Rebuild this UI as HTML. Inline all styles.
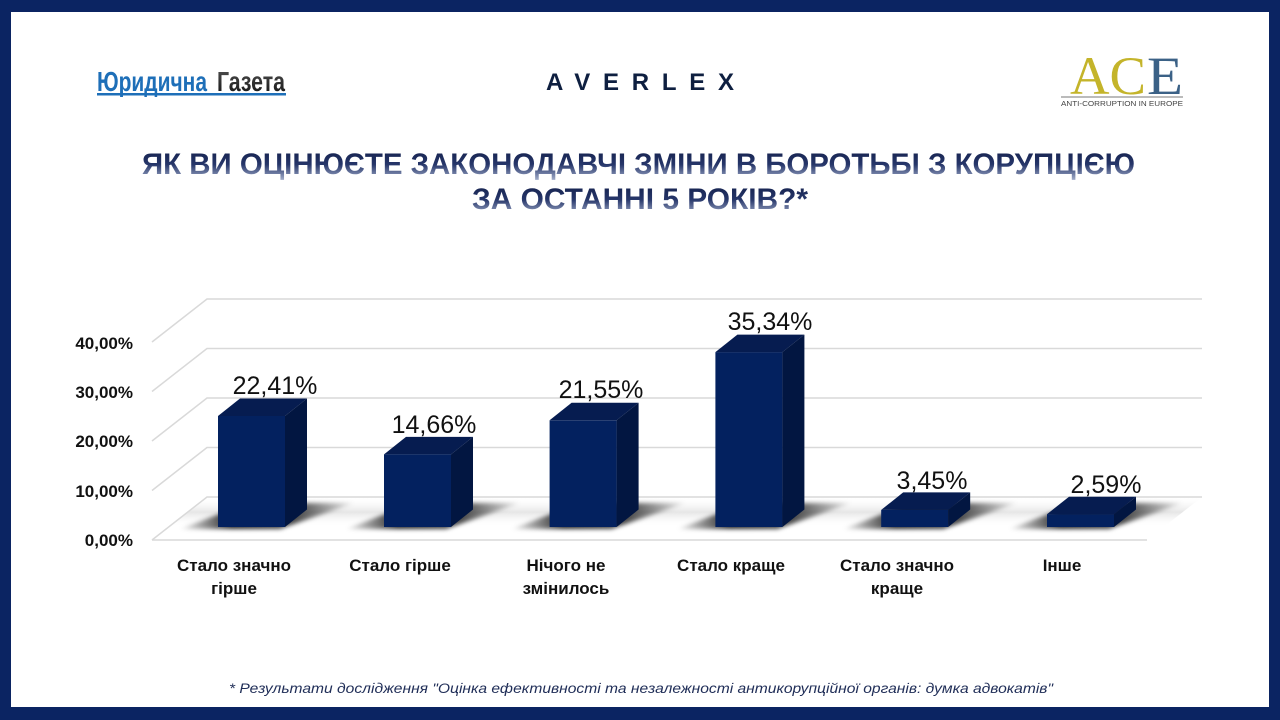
<!DOCTYPE html>
<html>
<head>
<meta charset="utf-8">
<style>
html,body{margin:0;padding:0;background:#fff;}
svg{display:block;}
</style>
</head>
<body>
<svg width="1280" height="720" viewBox="0 0 1280 720" xmlns="http://www.w3.org/2000/svg">
  <defs>
    <linearGradient id="tg" x1="0" y1="0" x2="0" y2="1">
      <stop offset="0" stop-color="#131f4a"/>
      <stop offset="0.5" stop-color="#26366a"/>
      <stop offset="1" stop-color="#aab5d0"/>
    </linearGradient>
    <linearGradient id="gz" x1="0" y1="0" x2="0" y2="1">
      <stop offset="0" stop-color="#555"/>
      <stop offset="0.5" stop-color="#333"/>
      <stop offset="1" stop-color="#111"/>
    </linearGradient>
    <linearGradient id="sh" gradientUnits="userSpaceOnUse" x1="-40" y1="0" x2="140" y2="0">
      <stop offset="0" stop-color="#000" stop-opacity="0"/>
      <stop offset="0.3" stop-color="#000" stop-opacity="0.85"/>
      <stop offset="0.65" stop-color="#000" stop-opacity="0.7"/>
      <stop offset="1" stop-color="#000" stop-opacity="0"/>
    </linearGradient>
    <linearGradient id="floor" x1="0" y1="0" x2="0" y2="1">
      <stop offset="0" stop-color="#ffffff" stop-opacity="0"/>
      <stop offset="0.35" stop-color="#e6e6e6"/>
      <stop offset="0.7" stop-color="#ffffff" stop-opacity="0"/>
    </linearGradient>
    <filter id="blur" x="-20%" y="-50%" width="140%" height="200%">
      <feGaussianBlur stdDeviation="2.2"/>
    </filter>
    <g id="shadow">
      <polygon points="-38,529 62,529 136,503 30,503" fill="url(#sh)" filter="url(#blur)"/>
    </g>
  </defs>

  <!-- frame -->
  <rect x="0" y="0" width="1280" height="720" fill="#0b2462"/>
  <rect x="11" y="12" width="1258" height="695" fill="#ffffff"/>

  <!-- Logo: Юридична Газета -->
  <text x="97" y="91" font-family="'Liberation Sans', sans-serif" font-weight="bold" font-size="28" fill="#1e6fb8" textLength="110" lengthAdjust="spacingAndGlyphs">Юридична</text>
  <text x="217" y="91" font-family="'Liberation Sans', sans-serif" font-weight="bold" font-size="28" fill="url(#gz)" textLength="68" lengthAdjust="spacingAndGlyphs">Газета</text>
  <rect x="97" y="93" width="189" height="2.5" fill="#1e6fb8"/>

  <!-- Logo: AVERLEX -->
  <text x="546" y="90" font-family="'Liberation Sans', sans-serif" font-weight="bold" font-size="24" fill="#0e1f40" textLength="188" lengthAdjust="spacing">AVERLEX</text>

  <!-- Logo: ACE -->
  <text x="1070" y="94" font-family="'Liberation Serif', serif" font-size="54" fill="#c4b42a" textLength="76" lengthAdjust="spacingAndGlyphs">AC</text>
  <text x="1147" y="94" font-family="'Liberation Serif', serif" font-size="54" fill="#3b6186" textLength="36" lengthAdjust="spacingAndGlyphs">E</text>
  <rect x="1061" y="96.5" width="122" height="1" fill="#777"/>
  <text x="1061" y="106" font-family="'Liberation Sans', sans-serif" font-size="7.5" fill="#444" textLength="122" lengthAdjust="spacingAndGlyphs">ANTI-CORRUPTION IN EUROPE</text>

  <!-- Title -->
  <text x="142" y="174" font-family="'Liberation Sans', sans-serif" font-weight="bold" font-size="30" fill="url(#tg)" textLength="993" lengthAdjust="spacingAndGlyphs">ЯК ВИ ОЦІНЮЄТЕ ЗАКОНОДАВЧІ ЗМІНИ В БОРОТЬБІ З КОРУПЦІЄЮ</text>
  <text x="472" y="209" font-family="'Liberation Sans', sans-serif" font-weight="bold" font-size="30" fill="url(#tg)" textLength="336" lengthAdjust="spacingAndGlyphs">ЗА ОСТАННІ 5 РОКІВ?*</text>

  <!-- floor shading -->
  <polygon points="152,540 1147,540 1202,497 207,497" fill="url(#floor)"/>

  <!-- gridlines -->
  <g stroke="#d9d9d9" stroke-width="1.5" fill="none">
    <polyline points="152,342 207,299 1202,299"/>
    <polyline points="152,391.5 207,348.5 1202,348.5"/>
    <polyline points="152,441 207,398 1202,398"/>
    <polyline points="152,490.5 207,447.5 1202,447.5"/>
    <polyline points="152,540 207,497 1202,497"/>
    <line x1="152" y1="540" x2="1147" y2="540"/>
  </g>

  <!-- y axis labels -->
  <g font-family="'Liberation Sans', sans-serif" font-weight="bold" font-size="17" fill="#111" text-anchor="end">
    <text x="133" y="349">40,00%</text>
    <text x="133" y="398">30,00%</text>
    <text x="133" y="447">20,00%</text>
    <text x="133" y="497">10,00%</text>
    <text x="133" y="546">0,00%</text>
  </g>

  <!-- shadows -->
  <use href="#shadow" transform="translate(218,0)"/>
  <use href="#shadow" transform="translate(384,0)"/>
  <use href="#shadow" transform="translate(549.6,0)"/>
  <use href="#shadow" transform="translate(715.4,0)"/>
  <use href="#shadow" transform="translate(881.2,0)"/>
  <use href="#shadow" transform="translate(1047,0)"/>

  <!-- bars -->
  <g>
    <rect x="218" y="416" width="67" height="111" fill="#03215f"/>
    <polygon points="218,416 240,398.5 307,398.5 285,416" fill="#061c50"/>
    <polygon points="285,416 307,398.5 307,509.5 285,527" fill="#021641"/>

    <rect x="384" y="454.4" width="67" height="72.6" fill="#03215f"/>
    <polygon points="384,454.4 406,436.9 473,436.9 451,454.4" fill="#061c50"/>
    <polygon points="451,454.4 473,436.9 473,509.5 451,527" fill="#021641"/>

    <rect x="549.6" y="420.3" width="67" height="106.7" fill="#03215f"/>
    <polygon points="549.6,420.3 571.6,402.8 638.6,402.8 616.6,420.3" fill="#061c50"/>
    <polygon points="616.6,420.3 638.6,402.8 638.6,509.5 616.6,527" fill="#021641"/>

    <rect x="715.4" y="352.1" width="67" height="174.9" fill="#03215f"/>
    <polygon points="715.4,352.1 737.4,334.6 804.4,334.6 782.4,352.1" fill="#061c50"/>
    <polygon points="782.4,352.1 804.4,334.6 804.4,509.5 782.4,527" fill="#021641"/>

    <rect x="881.2" y="509.9" width="67" height="17.1" fill="#03215f"/>
    <polygon points="881.2,509.9 903.2,492.4 970.2,492.4 948.2,509.9" fill="#061c50"/>
    <polygon points="948.2,509.9 970.2,492.4 970.2,509.5 948.2,527" fill="#021641"/>

    <rect x="1047" y="514.2" width="67" height="12.8" fill="#03215f"/>
    <polygon points="1047,514.2 1069,496.7 1136,496.7 1114,514.2" fill="#061c50"/>
    <polygon points="1114,514.2 1136,496.7 1136,509.5 1114,527" fill="#021641"/>
  </g>

  <!-- data labels -->
  <g font-family="'Liberation Sans', sans-serif" font-size="25" fill="#111" text-anchor="middle">
    <text x="275" y="394">22,41%</text>
    <text x="434" y="433">14,66%</text>
    <text x="601" y="398">21,55%</text>
    <text x="770" y="330">35,34%</text>
    <text x="932" y="489">3,45%</text>
    <text x="1106" y="493">2,59%</text>
  </g>

  <!-- category labels -->
  <g font-family="'Liberation Sans', sans-serif" font-weight="bold" font-size="17" fill="#111" text-anchor="middle">
    <text x="234" y="571">Стало значно</text>
    <text x="234" y="594">гірше</text>
    <text x="400" y="571">Стало гірше</text>
    <text x="566" y="571">Нічого не</text>
    <text x="566" y="594">змінилось</text>
    <text x="731" y="571">Стало краще</text>
    <text x="897" y="571">Стало значно</text>
    <text x="897" y="594">краще</text>
    <text x="1062" y="571">Інше</text>
  </g>

  <!-- footnote -->
  <text x="229" y="693" font-family="'Liberation Sans', sans-serif" font-style="italic" font-size="14" fill="#1f2d57" textLength="824" lengthAdjust="spacingAndGlyphs">* Результати дослідження "Оцінка ефективності та незалежності антикорупційної органів: думка адвокатів"</text>
</svg>
</body>
</html>
